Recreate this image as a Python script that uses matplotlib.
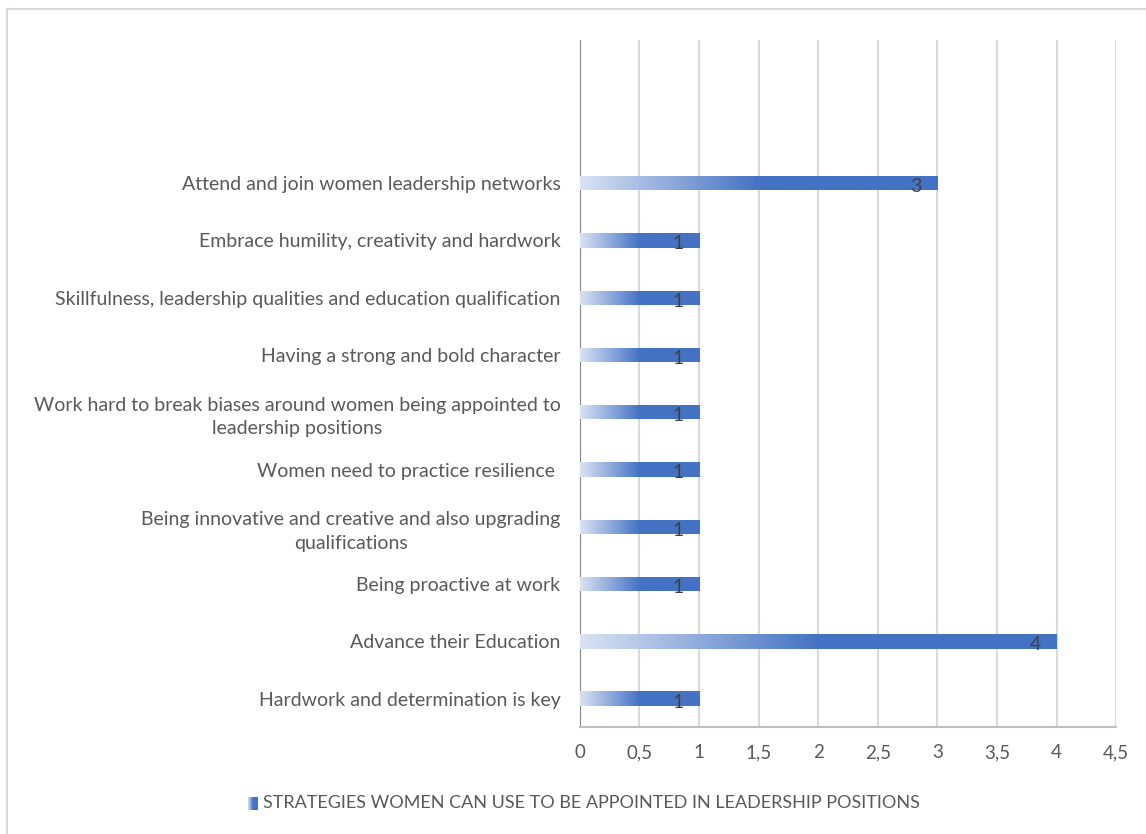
import matplotlib.pyplot as plt
import numpy as np
from matplotlib.colors import LinearSegmentedColormap
from matplotlib.lines import Line2D

# data, bottom to top
categories = [
    "Hardwork and determination is key",
    "Advance their Education",
    "Being proactive at work",
    "Being innovative and creative and also upgrading\nqualifications",
    "Women need to practice resilience ",
    "Work hard to break biases around women being appointed to\nleadership positions",
    "Having a strong and bold character",
    "Skillfulness, leadership qualities and education qualification",
    "Embrace humility, creativity and hardwork",
    "Attend and join women leadership networks",
]
values = [1, 4, 1, 1, 1, 1, 1, 1, 1, 3]
xticks = [0, 0.5, 1, 1.5, 2, 2.5, 3, 3.5, 4, 4.5]
xtick_labels = ["0", "0,5", "1", "1,5", "2", "2,5", "3", "3,5", "4", "4,5"]
series_name = "STRATEGIES WOMEN CAN USE TO BE APPOINTED IN LEADERSHIP POSITIONS"

plt.rcParams['font.family'] = ['Lato', 'DejaVu Sans']
text_col = "#595959"
grad = LinearSegmentedColormap.from_list("g", [(0, "#dae3f3"), (0.5, "#4472c4"), (1, "#4472c4")])
ramp = np.linspace(0, 1, 256).reshape(1, -1)

fig = plt.figure(figsize=(11.46, 8.34), dpi=100)
ax = fig.add_axes([0.506, 0.128, 0.468, 0.824])

y = np.arange(len(categories))
h = 0.25
bars = ax.barh(y, values, height=h, color="none", edgecolor="none")
for b, v, yi in zip(bars, values, y):
    im = ax.imshow(ramp, cmap=grad, aspect="auto", extent=[0, v, yi - h / 2, yi + h / 2],
                   interpolation="bilinear", zorder=3)
    im.set_clip_path(b)
    ax.text(v - 0.18, yi - 0.06, str(v), ha="center", va="center", fontsize=14,
            color="#404040", zorder=4)

ax.set_xlim(0, 4.5)
ax.set_ylim(-0.5, 11.5)
ax.set_xticks(xticks)
ax.set_xticklabels(xtick_labels)
ax.set_yticks(y)
ax.set_yticklabels(categories, multialignment="center", linespacing=1.45)
ax.tick_params(axis="y", length=0, labelsize=14, labelcolor=text_col, pad=14)
ax.tick_params(axis="x", length=0, labelsize=13.5, labelcolor=text_col, pad=12)
ax.xaxis.grid(True, color="#d9d9d9", linewidth=1.5, zorder=0)
ax.set_axisbelow(True)
for s in ["top", "right"]:
    ax.spines[s].set_visible(False)
ax.spines["left"].set_color("#868686")
ax.spines["bottom"].set_color("#bfbfbf")
ax.spines["bottom"].set_linewidth(1.5)

# legend swatch + label
lax = fig.add_axes([248 / 1146, 1 - 810 / 834, 10 / 1146, 13 / 834])
lax.imshow(ramp, cmap=LinearSegmentedColormap.from_list("l", ["#dae3f3", "#4472c4", "#4472c4"]),
           aspect="auto", interpolation="bilinear")
lax.axis("off")
fig.text(263 / 1146, 1 - 803 / 834, series_name, ha="left", va="center", fontsize=13, color=text_col)

# chart area frame
fig.add_artist(Line2D([7 / 1146, 7 / 1146], [0, 1 - 9 / 834], color="#d9d9d9", lw=1.5))
fig.add_artist(Line2D([7 / 1146, 1], [1 - 9 / 834, 1 - 9 / 834], color="#d9d9d9", lw=1.5))

fig.savefig("out.png", dpi=100)
